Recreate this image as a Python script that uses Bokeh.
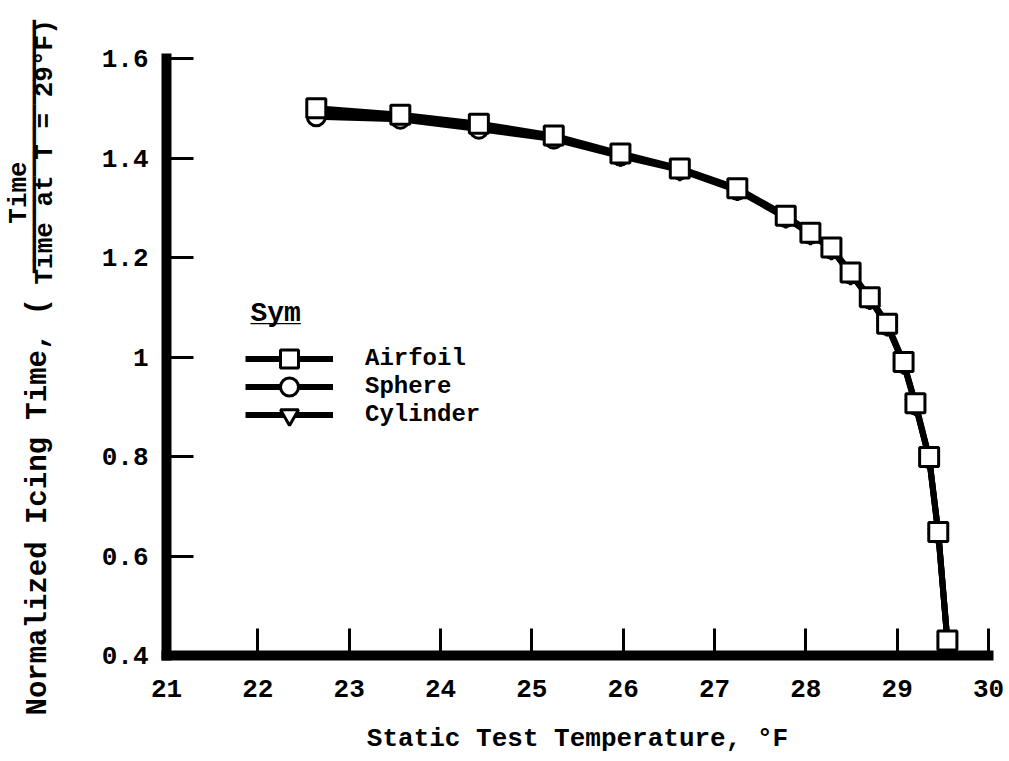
import math
from bokeh.plotting import figure
from bokeh.models import Label, Legend, LegendItem, FixedTicker, Range1d
from bokeh.embed import file_html
from bokeh.resources import INLINE

# ---- data ----
temp = [22.64, 23.56, 24.42, 25.24, 25.97, 26.62, 27.25, 27.78, 28.05, 28.28,
        28.49, 28.70, 28.89, 29.07, 29.20, 29.35, 29.45, 29.55]
airfoil = [1.500, 1.487, 1.469, 1.445, 1.409, 1.379, 1.339, 1.284, 1.250, 1.220,
           1.170, 1.120, 1.067, 0.990, 0.907, 0.799, 0.648, 0.430]
sphere = [1.483, 1.478, 1.458, 1.438, 1.404, 1.376, 1.335, 1.280, 1.247, 1.217,
          1.167, 1.117, 1.063, 0.987, 0.904, 0.796, 0.645, 0.428]
cylinder = [1.490, 1.482, 1.462, 1.441, 1.406, 1.377, 1.337, 1.282, 1.248, 1.218,
            1.168, 1.118, 1.065, 0.988, 0.905, 0.797, 0.646, 0.429]

x_ticks = [21, 22, 23, 24, 25, 26, 27, 28, 29, 30]
y_ticks = [0.4, 0.6, 0.8, 1, 1.2, 1.4, 1.6]
y_tick_labels = ["0.4", "0.6", "0.8", "1", "1.2", "1.4", "1.6"]

FONT = "Liberation Mono"
W, H = 1009, 761
# pixel box of the axes inside the page
PX_L, PX_R, PX_T, PX_B = 166, 988, 58, 655
X0, X1 = x_ticks[0], x_ticks[-1]
Y0, Y1 = y_ticks[0], y_ticks[-1]
kx = (PX_R - PX_L) / (X1 - X0)
ky = (PX_B - PX_T) / (Y1 - Y0)

# the frame covers the whole page; axes are pinned at the data corner
p = figure(width=W, height=H, output_backend="svg", toolbar_location=None,
           x_range=Range1d(X0 - PX_L / kx, X1 + (W - PX_R) / kx),
           y_range=Range1d(Y0 - (H - PX_B) / ky, Y1 + PX_T / ky),
           min_border=0, min_border_left=0, min_border_right=0,
           min_border_top=0, min_border_bottom=0)
p.outline_line_color = None
p.grid.visible = False
p.background_fill_color = "white"
p.border_fill_color = "white"

p.xaxis.fixed_location = Y0
p.yaxis.fixed_location = X0
p.xaxis.bounds = (X0, X1)
p.yaxis.bounds = (Y0, Y1)

for ax in (p.xaxis[0], p.yaxis[0]):
    ax.axis_line_width = 10
    ax.axis_line_color = "black"
    ax.axis_line_cap = "square"
    ax.major_tick_line_width = 3
    ax.major_tick_line_color = "black"
    ax.major_tick_out = 0
    ax.major_tick_in = 27
    ax.minor_tick_line_color = None
    ax.major_label_text_font = FONT
    ax.major_label_text_font_style = "bold"
    ax.major_label_text_font_size = "26px"
    ax.major_label_text_color = "black"

p.xaxis.ticker = FixedTicker(ticks=x_ticks)
p.yaxis.ticker = FixedTicker(ticks=y_ticks)
p.yaxis.major_label_overrides = dict(zip(y_ticks, y_tick_labels))
p.xaxis.major_label_standoff = 24
p.yaxis.major_label_standoff = 18

p.xaxis.axis_label = "Static Test Temperature, °F"
p.xaxis.axis_label_text_font = FONT
p.xaxis.axis_label_text_font_style = "bold"
p.xaxis.axis_label_text_font_size = "26px"
p.xaxis.axis_label_text_color = "black"
p.xaxis.axis_label_standoff = 24

LW = 6
r_cl = p.line(temp, cylinder, line_width=LW, color="black")
r_cs = p.scatter(temp, cylinder, marker="inverted_triangle", size=19,
                 fill_color="white", line_color="black", line_width=3)
r_sl = p.line(temp, sphere, line_width=LW, color="black")
r_ss = p.scatter(temp, sphere, marker="circle", size=18,
                 fill_color="white", line_color="black", line_width=3)
r_al = p.line(temp, airfoil, line_width=LW, color="black")
r_as = p.scatter(temp, airfoil, marker="square", size=19,
                 fill_color="white", line_color="black", line_width=3)

# one legend per row so rows can sit closer than the glyph height
entries = [("Airfoil", [r_al, r_as], 358),
           ("Sphere", [r_sl, r_ss], 386),
           ("Cylinder", [r_cl, r_cs], 414)]
for name, rends, cy in entries:
    lg = Legend(items=[LegendItem(label=name, renderers=rends)],
                location=(245, int(H - cy - 22.5)),
                glyph_width=88, glyph_height=45, label_standoff=32,
                padding=0, margin=0, spacing=0,
                border_line_color=None, background_fill_alpha=0,
                label_text_font=FONT, label_text_font_style="bold",
                label_text_font_size="24px", label_text_color="black")
    p.add_layout(lg)


def lab(cx, cy, text, size, align="left", angle=0.0, font=FONT):
    """Label placed at page pixel (cx, cy) measured from the top-left."""
    p.add_layout(Label(x=cx, y=H - cy, x_units="screen", y_units="screen",
                       text=text, angle=angle, text_align=align,
                       text_baseline="middle", text_font=font,
                       text_font_style="bold", text_font_size=size,
                       text_color="black"))


# legend heading "Sym" (underlined)
lab(250, 313, "Sym", "28px")
lab(250, 313, "___", "28px")

# y axis title with the fraction
A = math.pi / 2
lab(38, 715, "Normalized Icing Time, (", "29px", angle=A)
lab(18, 192, "Time", "26px", align="center", angle=A)
lab(33, 146, "━" * 21, "20px", align="center", angle=A, font="DejaVu Sans Mono")
lab(44, 284, "Time at T = 29°F)", "26px", angle=A)

open("out.html", "w").write(file_html(p, INLINE))
